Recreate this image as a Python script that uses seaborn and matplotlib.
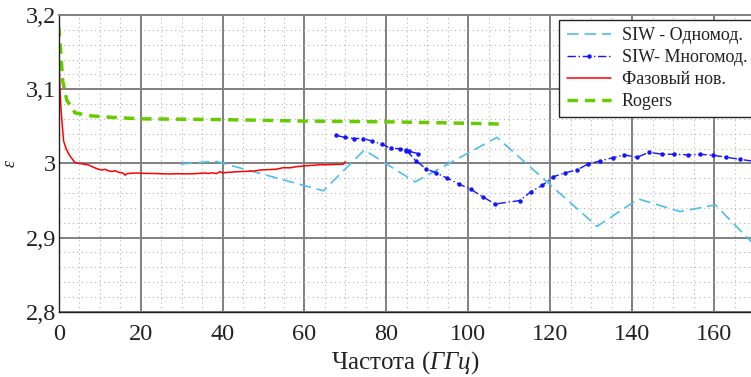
import numpy as np
import pandas as pd
import matplotlib
matplotlib.use("Agg")
import matplotlib.pyplot as plt
from matplotlib import font_manager as fm
import seaborn as sns
from matplotlib.ticker import MultipleLocator, FixedLocator, FixedFormatter

# ---------------- data ----------------
siw1_x = [29.7, 38.2, 64.6, 74.6, 87.0, 107.0, 131.4, 141.5, 151.7, 160.3, 170.0]
siw1_y = [2.999, 3.003, 2.963, 3.018, 2.975, 3.035, 2.915, 2.952, 2.935, 2.944, 2.889]

siwm_a_x = [67.7, 69.9, 72.1, 74.2, 76.5, 78.8, 81.0, 83.2, 84.8, 85.6, 87.8]
siwm_a_y = [3.0378, 3.0349, 3.0335, 3.0335, 3.0301, 3.0261, 3.0203, 3.0198, 3.0176, 3.0162, 3.0130]

siwm_b_x = [84.9, 87.2, 89.7, 92.1, 94.9, 97.8, 100.6, 103.5, 106.5, 112.6, 115.3, 118.1,
            120.7, 123.7, 126.5, 129.3, 132.2, 135.2, 138.1, 141.2, 144.1, 147.3, 150.2,
            153.5, 156.6, 159.7, 163.0, 166.2, 169.4]
siwm_b_y = [3.0173, 3.0036, 2.9924, 2.9874, 2.9798, 2.9718, 2.9650, 2.9550, 2.9452, 2.9499,
            2.9620, 2.9704, 2.9819, 2.9873, 2.9910, 2.9994, 3.0032, 3.0076, 3.0113, 3.0082,
            3.0149, 3.0123, 3.0123, 3.0115, 3.0122, 3.0109, 3.0082, 3.0055, 3.0030]

phase_x = [0.1, 0.3, 0.6, 0.9, 1.2, 1.8, 2.4, 3.0, 4.0, 5.0, 6.0, 7.2, 8.0, 8.8, 9.7, 10.5,
           11.3, 12.1, 13.0, 13.8, 14.6, 15.4, 15.9, 16.2, 16.6, 17.5, 19.0, 20.3, 22.0, 24.0,
           26.8, 29.0, 31.0, 33.0, 34.5, 35.5, 36.5, 37.5, 38.5, 39.4, 40.0, 41.0, 42.0, 43.0,
           44.5, 45.9, 47.5, 49.2, 51.0, 53.0, 54.8, 56.5, 58.0, 59.7, 61.0, 62.5, 63.8, 65.0,
           66.5, 68.7, 69.5, 69.9]
phase_y = [3.142, 3.100, 3.070, 3.049, 3.030, 3.020, 3.013, 3.008, 3.001, 3.000, 2.999, 2.998,
           2.996, 2.994, 2.992, 2.991, 2.992, 2.990, 2.989, 2.990, 2.988, 2.9874, 2.986, 2.984,
           2.986, 2.9866, 2.987, 2.9866, 2.9864, 2.9862, 2.9857, 2.986, 2.9858, 2.986, 2.9866,
           2.987, 2.9864, 2.9872, 2.9862, 2.9888, 2.9870, 2.9878, 2.988, 2.9885, 2.989, 2.9892,
           2.9895, 2.991, 2.9915, 2.992, 2.9941, 2.994, 2.9955, 2.9964, 2.997, 2.9975, 2.9982,
           2.998, 2.9984, 2.9987, 2.999, 3.0022]

rogers_x = [0.0, 0.5, 1.0, 2.0, 4.0, 8.0, 13.0, 20.0, 40.0, 60.0, 80.0, 100.0, 108.0]
rogers_y = [3.185, 3.150, 3.110, 3.085, 3.068, 3.064, 3.062, 3.060, 3.059, 3.057, 3.056, 3.054, 3.053]

labels = ["SIW - Одномод.", "SIW- Многомод.", "Фазовый нов.", "Rogers"]
xticks = [0, 20, 40, 60, 80, 100, 120, 140, 160]
yticks = [2.8, 2.9, 3.0, 3.1, 3.2]
ytick_labels = ["2,8", "2,9", "3", "3,1", "3,2"]

# ---------------- style ----------------
sns.set_theme(style="white")
names = {f.name for f in fm.fontManager.ttflist}
serif = "Liberation Serif" if "Liberation Serif" in names else "DejaVu Serif"
plt.rcParams["font.family"] = "serif"
plt.rcParams["font.serif"] = [serif, "DejaVu Serif"]
plt.rcParams["mathtext.fontset"] = "custom"
plt.rcParams["mathtext.rm"] = serif
plt.rcParams["mathtext.it"] = serif + ":italic"
plt.rcParams["mathtext.fallback"] = "stix"

W, H = 751, 377
fig = plt.figure(figsize=(W / 100, H / 100), dpi=100)
left, right, top, bottom = 58.7, 751, 15, 311.7
ax = fig.add_axes([left / W, (H - bottom) / H, (right - left) / W, (bottom - top) / H])

# grid
ax.xaxis.set_major_locator(FixedLocator(xticks))
ax.xaxis.set_minor_locator(MultipleLocator(5))
ax.yaxis.set_major_locator(FixedLocator(yticks))
ax.yaxis.set_major_formatter(FixedFormatter(ytick_labels))
ax.yaxis.set_minor_locator(MultipleLocator(0.02))
ax.grid(which="major", color="#808080", linewidth=1.4, linestyle="-")
ax.grid(which="minor", color="#b4b4b4", linewidth=0.8, linestyle=(0, (1, 3)))
ax.set_axisbelow(True)

lb = "#4dbeee"
blue = "#1414ff"
red = "#ff0000"
green = "#66cc00"

df1 = pd.DataFrame({"x": siw1_x, "y": siw1_y})
sns.lineplot(data=df1, x="x", y="y", ax=ax, color=lb, linewidth=1.2,
             label=labels[0], estimator=None, sort=False)
ax.lines[-1].set_dashes((7, 3.5))

dfm = pd.DataFrame({"x": siwm_a_x + siwm_b_x,
                    "y": siwm_a_y + siwm_b_y,
                    "seg": ["a"] * len(siwm_a_x) + ["b"] * len(siwm_b_x)})
n0 = len(ax.lines)
sns.lineplot(data=dfm, x="x", y="y", units="seg", estimator=None, sort=False, ax=ax,
             color=blue, linewidth=1.0, marker="o", markersize=3.2, markeredgewidth=0,
             label=labels[1])
for ln in ax.lines[n0:]:
    ln.set_dashes((6, 2, 1, 2))

dfp = pd.DataFrame({"x": phase_x, "y": phase_y})
sns.lineplot(data=dfp, x="x", y="y", ax=ax, color=red, linewidth=1.1,
             label=labels[2], estimator=None, sort=False)

dfr = pd.DataFrame({"x": rogers_x, "y": rogers_y})
sns.lineplot(data=dfr, x="x", y="y", ax=ax, color=green, linewidth=2.5,
             label=labels[3], estimator=None, sort=False)
ax.lines[-1].set_dashes((3.0, 2.0))

ax.set_xlim(0, 169)
ax.set_ylim(2.8, 3.2)

# spines & ticks
for s in ["left", "bottom"]:
    ax.spines[s].set_color("#222222")
    ax.spines[s].set_linewidth(1.0)
ax.spines["top"].set_color("#808080")
ax.spines["top"].set_linewidth(1.4)
ax.spines["right"].set_visible(False)
ax.tick_params(which="major", direction="in", length=6, width=1.0, color="#222222",
               labelsize=17.5, labelcolor="#222222")
ax.tick_params(axis="y", pad=2)
ax.tick_params(axis="x", pad=9)
ax.tick_params(which="minor", length=0)
for t in ax.get_xticklabels() + ax.get_yticklabels():
    t.set_fontfamily(serif)

ax.set_xlabel("Частота (" + r"$\mathit{ГГц}$" + ")", fontsize=18, color="#222222",
              labelpad=2.5, fontfamily=serif)
ax.set_ylabel(r"$\epsilon$", fontsize=13, color="#222222")
ax.yaxis.set_label_coords((19 - left) / (right - left), 0.5)

# legend (one entry per series)
handles, labs = ax.get_legend_handles_labels()
seen = {}
for h, l in zip(handles, labs):
    if l not in seen:
        seen[l] = h
leg = ax.legend([seen[l] for l in labels], labels,
                loc="upper left", bbox_to_anchor=(559.3 / W, 1 - 20 / H),
                bbox_transform=fig.transFigure, frameon=True, fancybox=False,
                edgecolor="#222222", framealpha=1, borderpad=0.4, labelspacing=0.27,
                handlelength=2.45, handletextpad=0.6, borderaxespad=0, numpoints=1,
                prop={"family": serif, "size": 13})
leg.get_frame().set_linewidth(1.0)
for t in leg.get_texts():
    t.set_color("#222222")

fig.savefig("out.png", dpi=100)
